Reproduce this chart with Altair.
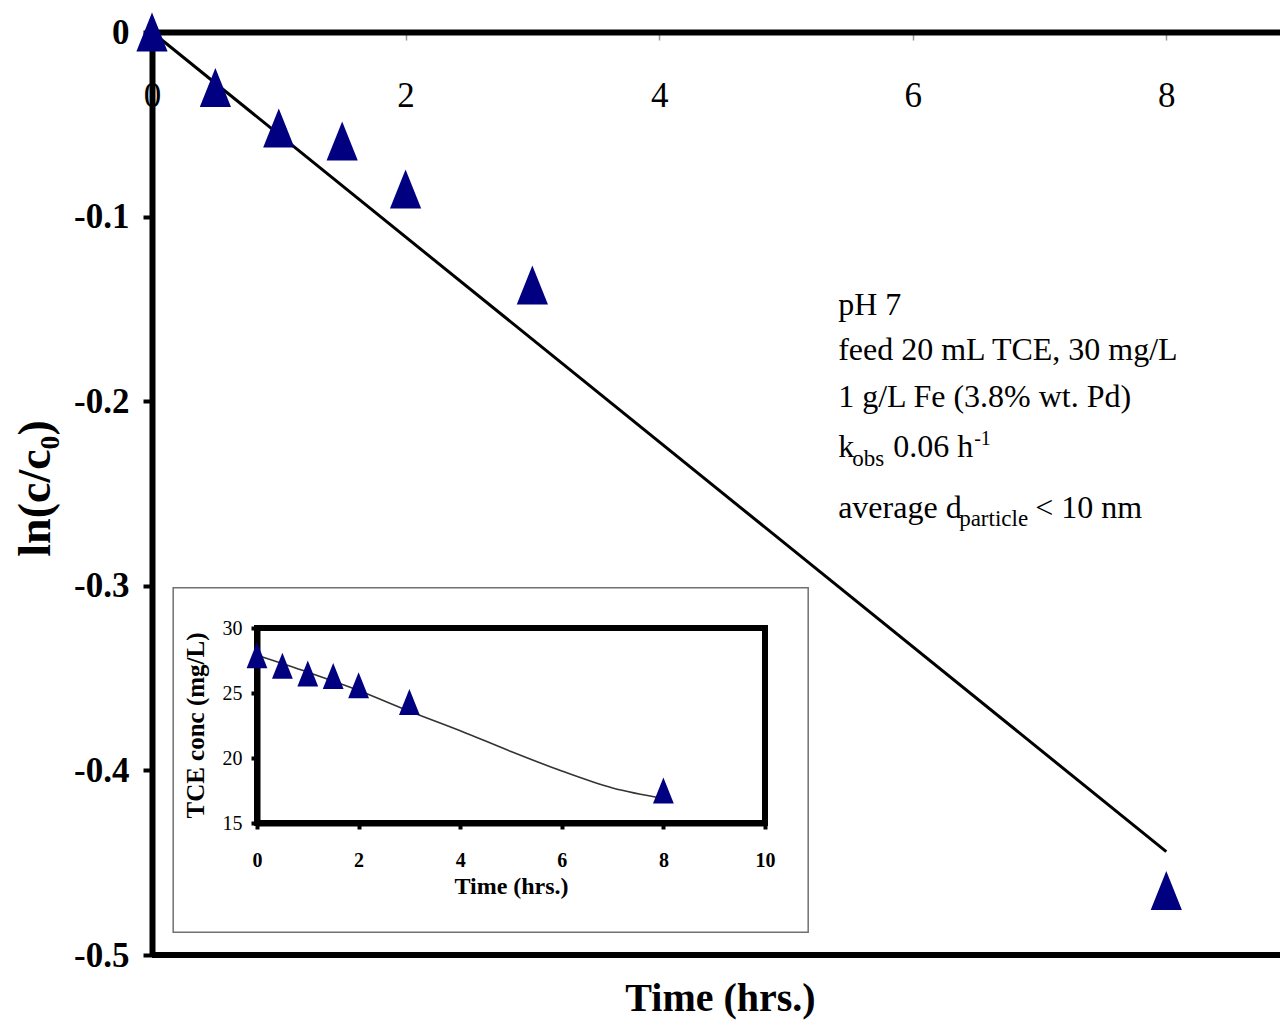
import altair as alt
import pandas as pd

# ---------------- data ----------------
t_main = [0, 0.5, 1, 1.5, 2, 3, 8]
ln_ratio = [0.0, -0.030, -0.052, -0.059, -0.085, -0.137, -0.465]
fit_t = [0, 8]
fit_ln = [0.0, -0.444]

t_inset = [0, 0.5, 1, 1.5, 2, 3, 8]
conc_inset = [27.9, 27.1, 26.5, 26.3, 25.6, 24.3, 17.5]
curve_t = [0, 1, 2, 3, 4, 5, 6, 7, 8]
curve_conc = [27.9, 26.6, 25.2, 23.6, 22.1, 20.5, 19.0, 17.7, 16.9]

main_xticks = [0, 2, 4, 6, 8]
main_yticks = [0, -0.1, -0.2, -0.3, -0.4, -0.5]
inset_xticks = [0, 2, 4, 6, 8, 10]
inset_yticks = [15, 20, 25, 30]

x_title = "Time (hrs.)"
y_title = "ln(c/c\u2080)"
inset_x_title = "Time (hrs.)"
inset_y_title = "TCE conc (mg/L)"

# annotation (anchored in main-plot data units)
ann_t = 5.412
ann_lines_v = [-0.1533, -0.1777, -0.2031, -0.2302, -0.2633]

# inset frame extent in inset data units
frame_x = [-1.65, 10.85]
frame_y = [6.6, 33.1]

FONT = "Liberation Serif"
NAVY = "#000080"
TRI = "M0,-1L-0.8,1L0.8,1Z"

W, H = 1136, 923


def xm():
    return alt.Scale(domain=[0, 8.96], nice=False, zero=False)


def ym():
    return alt.Scale(domain=[-0.5, 0], nice=False, zero=False)


def xi():
    return alt.Scale(domain=[0, 10], range=[105, 613], nice=False, zero=False)


def yi():
    return alt.Scale(domain=[15, 30], range=[791, 596], nice=False, zero=False)


one = pd.DataFrame({"a": [0]})

# ---------------- main plot ----------------
pts_df = pd.DataFrame({"t": t_main, "v": ln_ratio})
fit_df = pd.DataFrame({"t": fit_t, "v": fit_ln})

x_axis = alt.Axis(
    orient="bottom", offset=-H, values=main_xticks, grid=False,
    domainColor="black", domainWidth=6,
    tickColor="#999999", tickWidth=1.5, tickSize=8,
    labelFont=FONT, labelFontSize=35, labelColor="black",
    labelBaseline="middle", labelPadding=55, labelFlush=False, labelOverlap=False,
    title=x_title, titleFont=FONT, titleFontSize=40, titleFontWeight="bold",
    titleColor="black", titleX=568, titleY=966, titleBaseline="middle", titleAlign="center",
)
y_axis = alt.Axis(
    orient="left", values=main_yticks, grid=False,
    domainColor="black", domainWidth=6,
    tickColor="black", tickWidth=4, tickSize=9,
    labelFont=FONT, labelFontSize=35, labelFontWeight="bold", labelColor="black",
    labelPadding=14,
    labelExpr="datum.value == 0 ? '0' : '-' + format(-datum.value, '.1f')",
    title=y_title, titleFont=FONT, titleFontSize=46, titleFontWeight="bold",
    titleColor="black", titleX=-117, titleY=456, titleAngle=270,
    titleBaseline="middle", titleAlign="center",
)

bottom_line = alt.Chart(one).mark_rule(color="black", strokeWidth=6).encode(
    y=alt.YDatum(main_yticks[-1], scale=ym(), axis=None)
)

fit_line = alt.Chart(fit_df).mark_line(color="black", strokeWidth=3).encode(
    x=alt.X("t:Q", scale=xm(), axis=None),
    y=alt.Y("v:Q", scale=ym(), axis=None),
)

main_pts = alt.Chart(pts_df).mark_point(
    shape=TRI, filled=True, color=NAVY, size=1521, opacity=1
).encode(
    x=alt.X("t:Q", scale=xm(), axis=x_axis),
    y=alt.Y("v:Q", scale=ym(), axis=y_axis),
)


def ann(text, v, dx=0, dy=0, size=32):
    return alt.Chart(one).mark_text(
        text=text, align="left", baseline="alphabetic", font=FONT,
        fontSize=size, color="black", dx=dx, dy=dy,
    ).encode(
        x=alt.XDatum(ann_t, scale=xm(), axis=None),
        y=alt.YDatum(v, scale=ym(), axis=None),
    )


annotations = [
    ann("pH 7", ann_lines_v[0]),
    ann("feed 20 mL TCE, 30 mg/L", ann_lines_v[1]),
    ann("1 g/L Fe (3.8% wt. Pd)", ann_lines_v[2]),
    ann("k", ann_lines_v[3]),
    ann("obs", ann_lines_v[3], dx=14, dy=9, size=23),
    ann("0.06 h", ann_lines_v[3], dx=55),
    ann("-1", ann_lines_v[3], dx=136, dy=-12, size=20),
    ann("average d", ann_lines_v[4]),
    ann("particle", ann_lines_v[4], dx=121, dy=8, size=23),
    ann("< 10 nm", ann_lines_v[4], dx=197),
]

# ---------------- inset ----------------
ins_pts_df = pd.DataFrame({"t": t_inset, "c": conc_inset})
ins_curve_df = pd.DataFrame({"t": curve_t, "c": curve_conc})

xi_axis = alt.Axis(
    orient="bottom", offset=791 - H, values=inset_xticks, grid=False,
    domainColor="black", domainWidth=6,
    tickColor="black", tickWidth=4, tickSize=6,
    labelFont=FONT, labelFontSize=20, labelFontWeight="bold", labelColor="black",
    labelPadding=21, labelFlush=False, labelOverlap=False,
    title=inset_x_title, titleFont=FONT, titleFontSize=24, titleFontWeight="bold",
    titleColor="black", titlePadding=4,
)
yi_axis = alt.Axis(
    orient="left", offset=-105, values=inset_yticks, grid=False,
    domainColor="black", domainWidth=6,
    tickColor="black", tickWidth=4, tickSize=6,
    labelFont=FONT, labelFontSize=20, labelColor="black", labelPadding=9,
    title=inset_y_title, titleFont=FONT, titleFontSize=25, titleFontWeight="bold",
    titleColor="black", titleX=-62, titleY=693, titleAngle=270,
    titleBaseline="middle", titleAlign="center",
)

outer_box = alt.Chart(one).mark_rect(
    fill="white", fillOpacity=0, stroke="#707070", strokeWidth=1.5
).encode(
    x=alt.XDatum(frame_x[0], scale=xi(), axis=None),
    x2=alt.X2Datum(frame_x[1]),
    y=alt.YDatum(frame_y[0], scale=yi(), axis=None),
    y2=alt.Y2Datum(frame_y[1]),
)

inner_box = alt.Chart(one).mark_rect(
    fill="white", fillOpacity=0, stroke="black", strokeWidth=6
).encode(
    x=alt.XDatum(inset_xticks[0], scale=xi(), axis=None),
    x2=alt.X2Datum(inset_xticks[-1]),
    y=alt.YDatum(inset_yticks[0], scale=yi(), axis=None),
    y2=alt.Y2Datum(inset_yticks[-1]),
)

ins_curve = alt.Chart(ins_curve_df).mark_line(
    color="#333333", strokeWidth=1.6, interpolate="monotone"
).encode(
    x=alt.X("t:Q", scale=xi(), axis=None),
    y=alt.Y("c:Q", scale=yi(), axis=None),
)

ins_pts = alt.Chart(ins_pts_df).mark_point(
    shape=TRI, filled=True, color=NAVY, size=676, opacity=1
).encode(
    x=alt.X("t:Q", scale=xi(), axis=xi_axis),
    y=alt.Y("c:Q", scale=yi(), axis=yi_axis),
)

chart = alt.layer(
    bottom_line, fit_line, main_pts, *annotations,
    outer_box, inner_box, ins_curve, ins_pts,
).resolve_scale(
    x="independent", y="independent"
).properties(
    width=W, height=H,
    padding={"left": 144, "top": 24, "right": -8, "bottom": 67},
    autosize=alt.AutoSizeParams(type="none"),
).configure(font=FONT, background="white").configure_view(strokeWidth=0)

chart.save("out.html", embed_options={"renderer": "svg", "actions": False})
